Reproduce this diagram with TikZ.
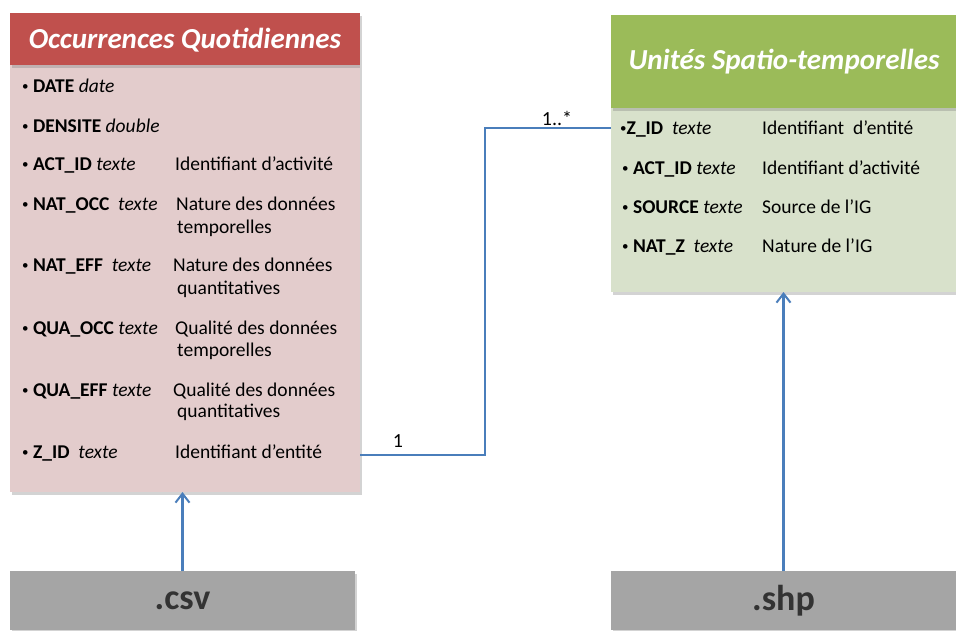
\documentclass[tikz,border=0pt]{standalone}
\usepackage{fontspec}
\setmainfont{Carlito}
\usetikzlibrary{shadows,arrows.meta,calc}
\definecolor{hdrred}{HTML}{C0504D}
\definecolor{bodypink}{HTML}{E3CCCC}
\definecolor{hdrgreen}{HTML}{9BBB59}
\definecolor{bodygreen}{HTML}{D8E1CB}
\definecolor{filegray}{HTML}{A5A5A5}
\definecolor{connblue}{HTML}{4A7EBB}
\newcommand{\smbul}{{\fontsize{13}{13}\selectfont\raisebox{1.5pt}{\textbullet}}}
\tikzset{
  boxpart/.style={anchor=north west, inner sep=0pt, outer sep=0pt, draw=none,
    drop shadow={opacity=0.35, shadow xshift=2pt, shadow yshift=-3pt}},
  hdrtext/.style={text=white, font=\fontsize{29}{33}\selectfont\bfseries\itshape, inner sep=0pt},
  rowtext/.style={anchor=base west, inner sep=0pt, font=\fontsize{19.5}{22}\selectfont},
  conn/.style={draw=connblue, line width=2.4pt},
  arr/.style={conn, -{Straight Barb[length=9pt, width=14pt, line width=2pt]}},
  card/.style={inner sep=0pt, font=\fontsize{20}{22}\selectfont},
  filetext/.style={font=\fontsize{36}{40}\selectfont\bfseries, text=black!80, inner sep=0pt}
}
\begin{document}
\begin{tikzpicture}[x=1pt, y=-1pt]
\useasboundingbox (0,0) rectangle (956,630);
% left class
\node[boxpart, fill=bodypink, minimum width=350pt, minimum height=427pt] (oqb) at (10,65) {};
\node[boxpart, fill=hdrred, minimum width=350pt, minimum height=52pt] (oqh) at (10,13) {};
\node[hdrtext] (oqt) at (185,40) {Occurrences Quotidiennes};
% left rows
\node[rowtext] (l1) at (22,92) {\smbul\ \textbf{DATE}\ \textit{date}};
\node[rowtext] (l2) at (22,132) {\smbul\ \textbf{DENSITE}\ \textit{double}};
\node[rowtext] (l3) at (22,170) {\smbul\ \textbf{ACT\_ID} \textit{texte}};
\node[rowtext] (l3d) at (175,170) {Identifiant d’activité};
\node[rowtext] (l4) at (22,210) {\smbul\ \textbf{NAT\_OCC}\ \ \textit{texte}};
\node[rowtext] (l4d) at (176,210) {Nature des données};
\node[rowtext] (l4e) at (177,233) {temporelles};
\node[rowtext] (l5) at (22,271) {\smbul\ \textbf{NAT\_EFF}\ \ \textit{texte}};
\node[rowtext] (l5d) at (173,271) {Nature des données};
\node[rowtext] (l5e) at (177,294) {quantitatives};
\node[rowtext] (l6) at (22,334) {\smbul\ \textbf{QUA\_OCC} \textit{texte}};
\node[rowtext] (l6d) at (175,334) {Qualité des données};
\node[rowtext] (l6e) at (177,356) {temporelles};
\node[rowtext] (l7) at (22,396) {\smbul\ \textbf{QUA\_EFF} \textit{texte}};
\node[rowtext] (l7d) at (173,396) {Qualité des données};
\node[rowtext] (l7e) at (177,417) {quantitatives};
\node[rowtext] (l8) at (22,458) {\smbul\ \textbf{Z\_ID}\ \ \textit{texte}};
\node[rowtext] (l8d) at (175,458) {Identifiant d’entité};
% right class
\node[boxpart, fill=bodygreen, minimum width=345pt, minimum height=184pt] (usb) at (611,108) {};
\node[boxpart, fill=hdrgreen, minimum width=345pt, minimum height=93pt] (ush) at (611,15) {};
\node[hdrtext] (ust) at (784,62) {Unités Spatio-temporelles};
\node[rowtext] (r1) at (620,134) {\smbul\textbf{Z\_ID}\ \ \textit{texte}};
\node[rowtext] (r1d) at (762,134) {Identifiant\ \ d’entité};
\node[rowtext] (r2) at (622,174) {\smbul\ \textbf{ACT\_ID} \textit{texte}};
\node[rowtext] (r2d) at (762,174) {Identifiant d’activité};
\node[rowtext] (r3) at (622,213) {\smbul\ \textbf{SOURCE} \textit{texte}};
\node[rowtext] (r3d) at (762,213) {Source de l’IG};
\node[rowtext] (r4) at (622,252) {\smbul\ \textbf{NAT\_Z}\ \ \textit{texte}};
\node[rowtext] (r4d) at (762,252) {Nature de l’IG};
% file boxes
\node[boxpart, fill=filegray, minimum width=345pt, minimum height=59pt] (csv) at (10,571) {};
\node[filetext] at (csv.center) {.csv};
\node[boxpart, fill=filegray, minimum width=345pt, minimum height=59pt] (shp) at (611,571) {};
\node[filetext] at (shp.center) {.shp};
% association
\coordinate (mid) at (485,0);
\coordinate (lz) at (0,455);
\coordinate (rz) at (0,128);
\draw[conn] (oqb.east |- lz) -- (mid |- lz) -- (mid |- rz) -- (usb.west |- rz);
\node[card] (c1) at (398,441) {1};
\node[card] (c2) at (557,118) {1..*};
% arrows
\draw[arr] (csv.north) -- (csv.north |- oqb.south);
\draw[arr] (shp.north) -- (shp.north |- usb.south);
\end{tikzpicture}
\end{document}
